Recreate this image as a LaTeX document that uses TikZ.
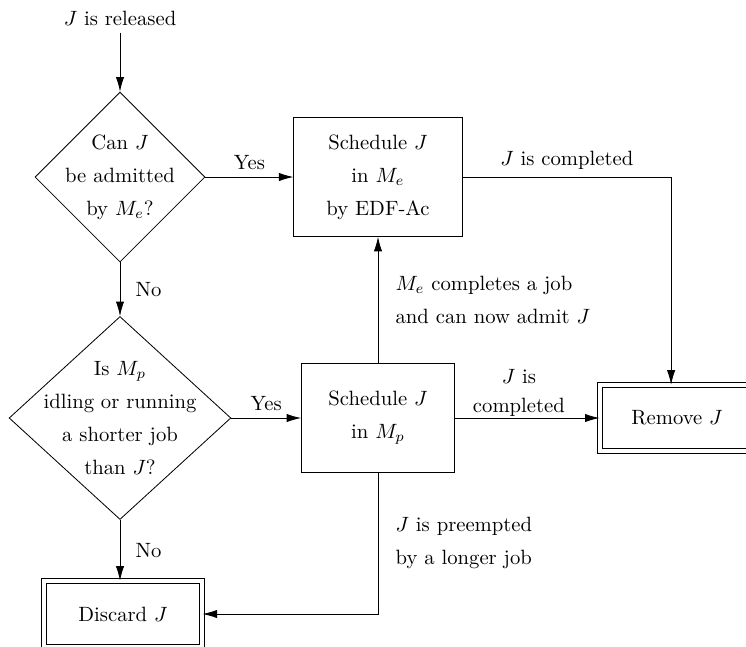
\documentclass[tikz,border=0pt]{standalone}
\usepackage{amsmath}
\usepackage{tikz}
\usetikzlibrary{shapes.geometric,arrows.meta}

\tikzset{
  decision/.style={diamond, draw, inner sep=0pt},
  process/.style={rectangle, draw, align=center},
  final/.style={rectangle, draw, double, double distance=2.2pt, align=center},
  flow/.style={-{Latex[length=7pt,width=4pt]}},
}

\begin{document}
\begin{tikzpicture}[x=0.017cm, y=-0.017cm, font=\linespread{1.33}\selectfont]
        \useasboundingbox (0,0) rectangle (746,646);
        \node (release) at (120,18) {$J$ is released};
        \node[decision, minimum width=2.89cm, minimum height=2.89cm] (admit) at (120,177) {};
        \node[align=center] (admittext) at (admit) {Can $J$\\be admitted\\by $M_e$?};
        \node[process, minimum width=2.86cm, minimum height=2.02cm] (inme) at (378,177) {Schedule $J$\\in $M_e$\\by EDF-Ac};
        \node[decision, minimum width=3.77cm, minimum height=3.45cm] (idle) at (120,418) {};
        \node[align=center] (idletext) at (idle) {Is $M_p$\\idling or running\\a shorter job\\than $J$?};
        \node[process, minimum width=2.6cm, minimum height=1.84cm] (inmp) at (378,418) {Schedule $J$\\in $M_p$};
        \node[final, minimum width=2.62cm, minimum height=1.12cm] (remove) at (677,418) {Remove $J$};
        \node[final, minimum width=2.69cm, minimum height=1.12cm] (discard) at (123,614) {Discard $J$};
        %\draw (admit.east) -- (inme.west);
        \draw[flow] (release) -- (admit);
        \draw[flow] (admit) -- node[above] {Yes} (inme);
        \draw[flow] (inme) -| node[above, pos=0.25] {$J$ is completed} ([xshift=-0.1cm]remove.north);
        \draw[flow] (admit) -- node[right, xshift=4pt] {No} (idle);
        \draw[flow] (idle) -- node[above] {Yes} (inmp);
        \draw[flow] (inmp) -- node[right, align=left, xshift=5pt] {$M_e$ completes a job\\and can now admit $J$} (inme);
        \draw[flow] (inmp) -- node[above, align=center, xshift=-4pt, yshift=-3pt, font=\linespread{1.2}\selectfont] {$J$ is\\completed} (remove);
        \draw[flow] (inmp) |- node[right, align=left, pos=0.25, xshift=5pt] {$J$ is preempted\\by a longer job} (discard);
        \draw[flow] (idle) -- node[right, xshift=4pt] {No} (idle |- discard.north);
    \end{tikzpicture}
\end{document}
